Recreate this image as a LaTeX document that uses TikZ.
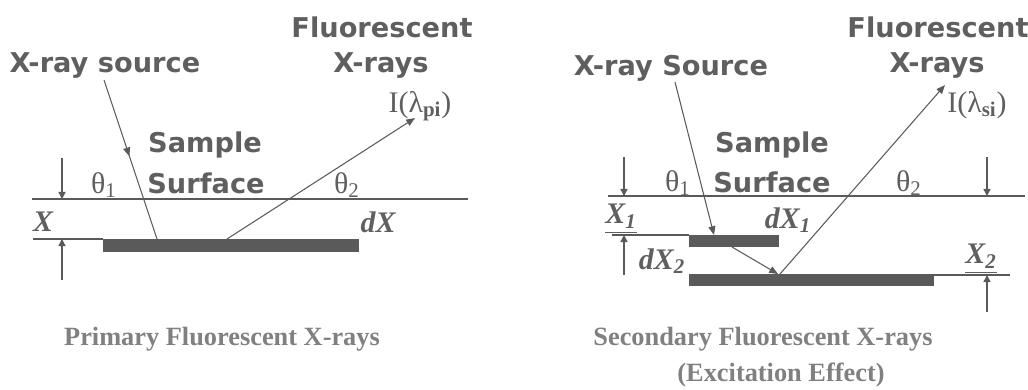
\documentclass[tikz,border=0pt]{standalone}
\usepackage{amsmath}
\usepackage{fontspec}
\setmainfont{Liberation Serif}
\newfontfamily\labfont{DejaVu Sans}
\usetikzlibrary{arrows.meta, positioning, calc, decorations.markings}
\definecolor{ink}{RGB}{90,90,90}
\definecolor{txtgray}{RGB}{95,95,95}
\definecolor{capgray}{RGB}{128,128,128}

\begin{document}
\begin{tikzpicture}[x=0.02cm, y=-0.02cm,
  lab/.style={txtgray, font=\labfont\bfseries\fontsize{15.5}{15.5}\selectfont, inner sep=0pt},
  sym/.style={txtgray, font=\fontsize{17}{17}\selectfont, inner sep=0pt},
  dim/.style={txtgray, font=\bfseries\itshape\fontsize{17}{17}\selectfont, inner sep=0pt},
  captxt/.style={capgray, font=\bfseries\fontsize{15}{20.5}\selectfont, inner sep=0pt, align=center},
  surf/.style={ink, line width=1.7pt},
  fine/.style={ink, line width=0.8pt},
  ray/.style={ink, line width=0.6pt, -{Triangle[length=5pt,width=4pt]}},
  tick/.style={ink, line width=0.8pt, -{Triangle[length=4pt,width=4pt]}},
  band/.style={ink, fill=ink, draw=none},
  midarrow/.style={postaction={decorate}, decoration={markings,
    mark=at position 0.48 with {\arrow{Triangle[length=5pt,width=4pt]}}}}]
  \useasboundingbox (0,0) rectangle (1028,389);

  % ---- primary fluorescence ----
  \node[lab] (fluorL) at (382,27) {Fluorescent};
  \node[lab] (raysL) at (381,66) {X-rays};
  \node[lab] (srcL) at (105,66) {X-ray source};
  \node[sym] (intL) at (420,106) {I(λ\textsubscript{\textbf{pi}})};
  \node[lab] (sampL) at (205,145) {Sample};
  \node[lab] (surfL) at (206,183) {Surface};
  \node[sym] (thaL) at (104,185) {θ\textsubscript{1}};
  \node[sym] (thbL) at (347,185) {θ\textsubscript{2}};
  \node[dim] (xL) at (43,222) {X};
  \node[dim] (dxL) at (378,222) {dX};
  \draw[surf] (32,199) -- (468,199);
  \fill[band] (103,239) rectangle (359,252);
  \coordinate (layL) at (103,239);
  \coordinate (fineL) at (33,239);
  \draw[fine] (fineL) -- (layL);
  \coordinate (topL) at (62,158);
  \coordinate (surfptL) at (62,199);
  \coordinate (botL) at (62,280);
  \draw[tick] (topL) -- (surfptL);
  \draw[tick] (botL) -- (62,239);
  % rays
  \coordinate (inL) at (104,80);
  \coordinate (hitL) at (157,239);
  \coordinate (emL) at (227,239);
  \coordinate (outL) at (415,118);
  \draw[ink, line width=0.6pt, midarrow] (inL) -- (hitL);
  \draw[ray] (emL) -- (outL);
  \node[captxt, anchor=base] (capL) at (222,345) {Primary Fluorescent X-rays};

  % ---- secondary fluorescence ----
  \node[lab] (fluorR) at (938,27) {Fluorescent};
  \node[lab] (raysR) at (937,66) {X-rays};
  \node[lab] (srcR) at (671,68) {X-ray Source};
  \node[sym] (intR) at (977,105) {I(λ\textsubscript{\textbf{si}})};
  \node[lab] (sampR) at (772,145) {Sample};
  \node[lab] (surfR) at (772,182) {Surface};
  \node[sym] (thaR) at (678,183) {θ\textsubscript{1}};
  \node[sym] (thbR) at (909,183) {θ\textsubscript{2}};
  \node[dim] (xaR) at (621,219) {\underline{X\textsubscript{1}}};
  \node[dim] (dxaR) at (788,220) {dX\textsubscript{1}};
  \node[dim] (dxbR) at (662,261) {dX\textsubscript{2}};
  \node[dim] (xbR) at (981,259) {\underline{X\textsubscript{2}}};
  \draw[surf] (608,196) -- (1025,196);
  \fill[band] (689,235) rectangle (779,247);
  \fill[band] (689,274) rectangle (934,286);
  \coordinate (layaR) at (689,235);
  \coordinate (laybR) at (934,275);
  \draw[fine] (612,235) -- (layaR);
  \draw[fine] (laybR) -- (1010,275);
  \draw[tick] (624,157) -- (624,196);
  \draw[tick] (987,157) -- (987,196);
  \draw[tick] (624,275) -- (624,235);
  \draw[tick] (987,312) -- (987,275);
  % rays
  \coordinate (inR) at (675,82);
  \coordinate (hitaR) at (714,235);
  \coordinate (emaR) at (732,247);
  \coordinate (hitbR) at (778,274);
  \coordinate (embR) at (780,274);
  \coordinate (outR) at (945,85);
  \draw[ray] (inR) -- (hitaR);
  \draw[ray] (emaR) -- (hitbR);
  \draw[ray] (embR) -- (outR);
  \node[captxt, anchor=base] (capR) at (763,345) {Secondary Fluorescent X-rays};
  \node[captxt, anchor=base] (capRb) at (781,381) {(Excitation Effect)};
\end{tikzpicture}
\end{document}
